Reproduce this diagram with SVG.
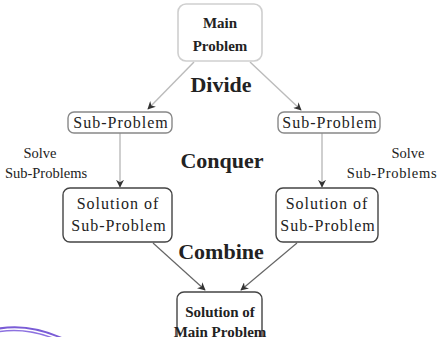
<svg xmlns="http://www.w3.org/2000/svg" width="440" height="337" viewBox="0 0 440 337">
<style>
  .box { fill: #fff; stroke: #444; stroke-width: 1.4; }
  .sub { stroke: #888; }
  .soft { stroke: #cfcfcf; stroke-width: 1.6; }
  .t { font-family: "Liberation Serif", "DejaVu Serif", serif; font-size: 16px; letter-spacing: 1px; fill: #222; text-anchor: middle; }
  .lbl { font-family: "Liberation Serif", "DejaVu Serif", serif; font-size: 14.5px; fill: #222; text-anchor: middle; }
  .tb { font-family: "Liberation Serif", "DejaVu Serif", serif; font-size: 15px; font-weight: bold; fill: #222; text-anchor: middle; }
  .big { font-family: "Liberation Serif", "DejaVu Serif", serif; font-size: 22px; font-weight: bold; fill: #222; text-anchor: middle; }
  .edge { fill: none; stroke: #666; stroke-width: 1.2; marker-end: url(#arr); }
  .edge-soft { fill: none; stroke: #bbb; stroke-width: 1.4; marker-end: url(#arr); }
</style>
<defs>
  <marker id="arr" viewBox="0 0 10 10" refX="9" refY="5" markerWidth="8" markerHeight="8" orient="auto" markerUnits="userSpaceOnUse">
    <path d="M0,0 L10,5 L0,10 L3,5 z" fill="#333"/>
  </marker>
</defs>
<rect width="440" height="337" fill="#fff"/>

<!-- connectors -->
<g id="connectors">
  <line class="edge-soft" x1="194" y1="62" x2="148" y2="109"/>
  <line class="edge-soft" x1="250" y1="62" x2="301" y2="110"/>
  <line class="edge-soft" x1="120" y1="133" x2="120" y2="187"/>
  <line class="edge-soft" x1="322" y1="133" x2="322" y2="187"/>
  <line class="edge" x1="153" y1="243" x2="205" y2="290"/>
  <line class="edge" x1="297" y1="243" x2="241" y2="290"/>
</g>

<!-- stage labels -->
<text class="big" x="221" y="92">Divide</text>
<text class="big" x="222" y="168">Conquer</text>
<text class="big" x="221" y="259">Combine</text>

<text class="lbl" x="40" y="158">Solve</text>
<text class="lbl" x="46" y="178">Sub-Problems</text>
<text class="lbl" x="408" y="158">Solve</text>
<text class="lbl" x="392" y="178" letter-spacing="0.7">Sub-Problems</text>

<g id="main-problem">
  <rect class="box soft" x="178" y="4" width="84" height="57" rx="8"/>
  <text class="tb" x="220" y="28">Main</text>
  <text class="tb" x="220" y="51">Problem</text>
</g>

<g id="sub-problem-left">
  <rect class="box sub" x="68" y="112" width="104" height="21" rx="6"/>
  <text class="t" x="121" y="128" letter-spacing="0.6">Sub-Problem</text>
</g>

<g id="sub-problem-right">
  <rect class="box sub" x="278" y="112" width="102" height="21" rx="6"/>
  <text class="t" x="330" y="128" letter-spacing="0.6">Sub-Problem</text>
</g>

<g id="solution-left">
  <rect class="box" x="63" y="188" width="109" height="54" rx="7"/>
  <text class="t" x="118" y="209">Solution of</text>
  <text class="t" x="119" y="231">Sub-Problem</text>
</g>

<g id="solution-right">
  <rect class="box" x="276" y="188" width="102" height="54" rx="7"/>
  <text class="t" x="327" y="209">Solution of</text>
  <text class="t" x="328" y="231">Sub-Problem</text>
</g>

<g id="solution-main">
  <rect class="box" x="177" y="292" width="85" height="60" rx="7" stroke="#999"/>
  <text class="tb" x="220" y="317" font-size="14">Solution of</text>
  <text class="tb" x="220" y="337" font-size="14">Main Problem</text>
</g>

<!-- purple ring at lower left -->
<path d="M-8,330 Q28,321 68,341" fill="none" stroke="#7a5cd6" stroke-width="2"/>
<path d="M-8,333 Q26,325 62,342" fill="none" stroke="#8d72e0" stroke-width="1.5"/>
</svg>
